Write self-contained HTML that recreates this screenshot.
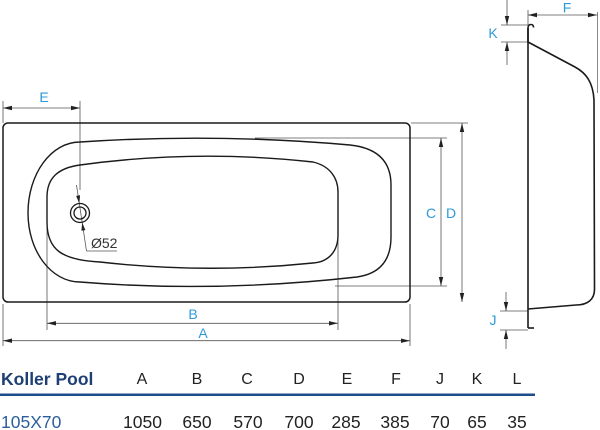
<!DOCTYPE html>
<html><head><meta charset="utf-8"><style>
html,body{margin:0;padding:0;background:#fff;}
svg{display:block;}
text{font-family:"Liberation Sans",Arial,sans-serif;}
</style></head><body>
<svg width="600" height="430" viewBox="0 0 600 430" xmlns="http://www.w3.org/2000/svg">
<rect width="600" height="430" fill="#fff"/>

<!-- dimension / extension lines -->
<g stroke="#555" stroke-width="0.8" fill="none">
  <!-- E -->
  <line x1="3" y1="101" x2="3" y2="123"/>
  <line x1="80" y1="101" x2="80" y2="190"/>
  <line x1="3" y1="108" x2="80" y2="108"/>
  <!-- drain dimension leader -->
  <line x1="76.5" y1="185" x2="86.5" y2="251"/>
  <line x1="86.5" y1="251" x2="117" y2="251"/>
  <!-- B -->
  <line x1="47" y1="222" x2="47" y2="330"/>
  <line x1="338" y1="236" x2="338" y2="330"/>
  <line x1="47" y1="323.3" x2="338" y2="323.3"/>
  <!-- A -->
  <line x1="3" y1="304" x2="3" y2="346"/>
  <line x1="410" y1="304" x2="410" y2="346"/>
  <line x1="3" y1="340.7" x2="410" y2="340.7"/>
  <!-- C -->
  <line x1="255" y1="138" x2="447" y2="138"/>
  <line x1="335" y1="286" x2="447" y2="286"/>
  <line x1="441" y1="138" x2="441" y2="286"/>
  <!-- D -->
  <line x1="411" y1="123" x2="468" y2="123"/>
  <line x1="462" y1="123" x2="462" y2="302"/>
  <!-- F -->
  <line x1="528" y1="10" x2="528" y2="25"/>
  <line x1="597.5" y1="12" x2="597.5" y2="93" stroke="#888" stroke-width="1"/>
  <line x1="528" y1="15" x2="597.5" y2="15"/>
  <!-- K -->
  <line x1="501" y1="25" x2="528" y2="25"/>
  <line x1="501" y1="42" x2="528" y2="42"/>
  <line x1="507" y1="0" x2="507" y2="25"/>
  <line x1="507" y1="42" x2="507" y2="65"/>
  <!-- J -->
  <line x1="500" y1="311" x2="528" y2="311"/>
  <line x1="500" y1="330" x2="528" y2="330"/>
  <line x1="506" y1="292" x2="506" y2="311"/>
  <line x1="506" y1="330" x2="506" y2="349"/>
</g>

<!-- arrowheads -->
<g fill="#222">
  <polygon points="3,108 12,105.8 12,110.2"/>
  <polygon points="80,108 71,105.8 71,110.2"/>
  <polygon points="47,323.3 56,321.1 56,325.5"/>
  <polygon points="338,323.3 329,321.1 329,325.5"/>
  <polygon points="3,340.7 12,338.5 12,342.9"/>
  <polygon points="410,340.7 401,338.5 401,342.9"/>
  <polygon points="441,138 438.8,147 443.2,147"/>
  <polygon points="441,286 438.8,277 443.2,277"/>
  <polygon points="462,123 459.8,132 464.2,132"/>
  <polygon points="462,302 459.8,293 464.2,293"/>
  <polygon points="528,15 537,12.8 537,17.2"/>
  <polygon points="597,15 588,12.8 588,17.2"/>
  <polygon points="507,25 504.8,16 509.2,16"/>
  <polygon points="507,42 504.8,51 509.2,51"/>
  <polygon points="506,311 503.8,302 508.2,302"/>
  <polygon points="506,330 503.8,339 508.2,339"/>
  <polygon points="79.3,203.5 80.1,195.3 76.1,195.9"/>
  <polygon points="82.2,222.5 85.4,230.1 81.4,230.7"/>
</g>

<!-- top view tub -->
<g stroke="#1a1a1a" stroke-width="1.5" fill="none">
  <rect x="3" y="123" width="407" height="179" rx="5" ry="5"/>
  <path d="M80,142 Q215,133 350,145 C378,148 391,162 391,185 L391,237 C391,262 378,274 357,277 Q215,293 80,282 C51,282 28,251 28,213 C28,174 51,142 80,142 Z" stroke-width="1.4"/>
  <path d="M100,262 Q206,274 313,263 C328,262 338,252 338,235 L338,192 C338,178 330,166 313,162 Q196,149 80,165 C58,168 47,178 47,197 L47,222 C47,250 62,260 100,262 Z" stroke-width="1.4"/>
  <circle cx="80" cy="213" r="9.5" stroke-width="1.3"/>
  <circle cx="80" cy="213" r="6" stroke-width="1.3"/>
</g>

<!-- side view -->
<g stroke="#1a1a1a" stroke-width="1.6" fill="none">
  <path d="M528,42 L528,28 Q528,24.5 531,24.5 Q533.5,24.5 533.5,27.5"/>
  <line x1="528" y1="28" x2="528" y2="328"/>
  <path d="M528,328 L534,328"/>
  <path d="M528,42 L575,67 C586,73 593,82 594,100 L594.5,288 C595,300 587,305 576,305 L528,309"/>
</g>

<!-- labels -->
<g fill="#2d9ad8" font-size="14" text-anchor="middle">
  <text x="44" y="102">E</text>
  <text x="193" y="319">B</text>
  <text x="203" y="338">A</text>
  <text x="431" y="218">C</text>
  <text x="451" y="218">D</text>
  <text x="567" y="12.5">F</text>
  <text x="493" y="38">K</text>
  <text x="493" y="325">J</text>
</g>
<text x="91" y="248" font-size="14" fill="#333">Ø52</text>

<!-- table -->
<text x="1" y="385" font-size="17.5" font-weight="bold" fill="#1d3f73">Koller Pool</text>
<g font-size="16" fill="#222" text-anchor="middle">
  <text x="142" y="384">A</text>
  <text x="197" y="384">B</text>
  <text x="247" y="384">C</text>
  <text x="299" y="384">D</text>
  <text x="347" y="384">E</text>
  <text x="396" y="384">F</text>
  <text x="440" y="384">J</text>
  <text x="477" y="384">K</text>
  <text x="517" y="384">L</text>
</g>
<rect x="0" y="393.5" width="535" height="2.5" fill="#1e4b8a"/>
<text x="1" y="428" font-size="17.5" fill="#2c5e9e">105X70</text>
<g font-size="17.5" fill="#222" text-anchor="middle">
  <text x="142.5" y="428">1050</text>
  <text x="197" y="428">650</text>
  <text x="248" y="428">570</text>
  <text x="299" y="428">700</text>
  <text x="346" y="428">285</text>
  <text x="395" y="428">385</text>
  <text x="440" y="428">70</text>
  <text x="477" y="428">65</text>
  <text x="517" y="428">35</text>
</g>
</svg>
</body></html>
